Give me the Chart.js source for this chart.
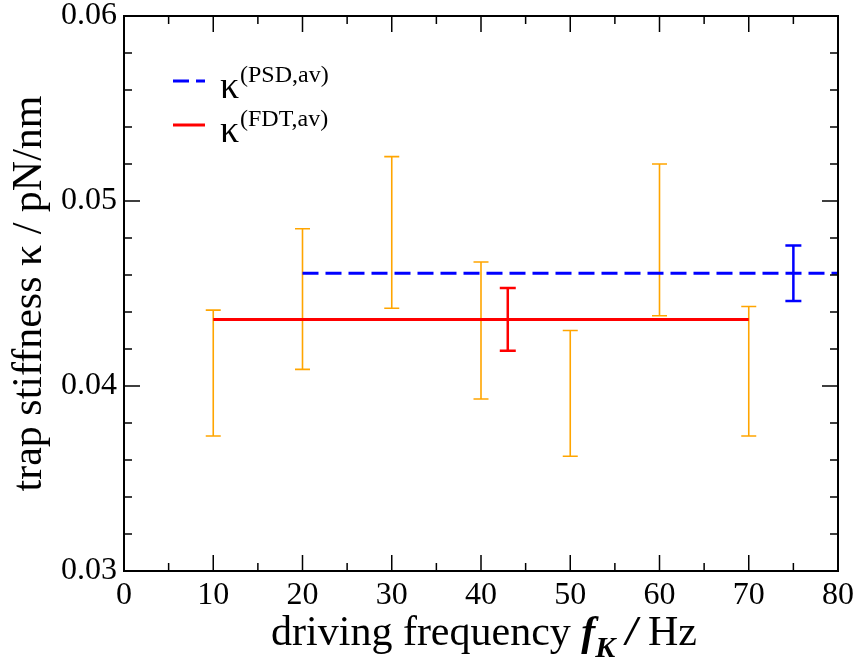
<!DOCTYPE html>
<html>
<head>
<meta charset="utf-8">
<script src="https://cdn.jsdelivr.net/npm/chart.js@4.4.0/dist/chart.umd.min.js"></script>
<style>
  html, body { margin: 0; padding: 0; background: #fff; }
</style>
</head>
<body>
<canvas id="stiffnessChart" width="856" height="660"></canvas>
<script>
// single measurements: driving frequency (Hz) and kappa error range (pN/nm)
const freqs = [10, 20, 30, 40, 50, 60, 70];
const kappaUpper = [0.0441, 0.0485, 0.0524, 0.0467, 0.0430, 0.0520, 0.0443];
const kappaLower = [0.0373, 0.0409, 0.0442, 0.0393, 0.0362, 0.0438, 0.0373];

// averaged stiffness from FDT
const fdtRange = [10, 70];
const fdtMean = 0.0436;
const fdtErrX = 43;
const fdtErr = [0.0419, 0.0453];

// averaged stiffness from PSD
const psdRange = [20, 80];
const psdMean = 0.0461;
const psdErrX = 75;
const psdErr = [0.0446, 0.0476];

// axis ticks
const xTicks = [0, 10, 20, 30, 40, 50, 60, 70, 80];
const yTicks = [0.03, 0.04, 0.05, 0.06];
const yTickLabels = ['0.03', '0.04', '0.05', '0.06'];

const FONT = '"Liberation Serif", "Times New Roman", serif';

function drawErrorBar(ctx, xs, ys, x, lo, hi, color, width, cap) {
  const px = xs.getPixelForValue(x);
  const top = ys.getPixelForValue(hi);
  const bot = ys.getPixelForValue(lo);
  ctx.save();
  ctx.strokeStyle = color;
  ctx.lineWidth = width;
  ctx.beginPath();
  ctx.moveTo(px, top); ctx.lineTo(px, bot);
  ctx.moveTo(px - cap, top); ctx.lineTo(px + cap, top);
  ctx.moveTo(px - cap, bot); ctx.lineTo(px + cap, bot);
  ctx.stroke();
  ctx.restore();
}

// no extra padding for overflowing tick labels, layout.padding decides
function noPad(s) {
  s.paddingTop = 0; s.paddingBottom = 0;
  s.paddingLeft = 0; s.paddingRight = 0;
}

// orange bars go under the averaged lines
const singleBars = {
  id: 'singleBars',
  beforeDatasetsDraw(chart) {
    const { ctx, scales: { x, y } } = chart;
    freqs.forEach((f, i) => {
      drawErrorBar(ctx, x, y, f, kappaLower[i], kappaUpper[i], '#FFA500', 1.6, 7.5);
    });
  }
};

const decorations = {
  id: 'decorations',
  afterDatasetsDraw(chart) {
    const { ctx, chartArea: a, scales: { x, y } } = chart;

    drawErrorBar(ctx, x, y, fdtErrX, fdtErr[0], fdtErr[1], '#FF0000', 2.5, 8);
    drawErrorBar(ctx, x, y, psdErrX, psdErr[0], psdErr[1], '#0000FF', 2.5, 8);

    ctx.save();
    // frame
    ctx.strokeStyle = '#000';
    ctx.lineWidth = 2;
    ctx.strokeRect(a.left, a.top, a.right - a.left, a.bottom - a.top);

    // inward ticks on all four sides
    ctx.lineWidth = 1.5;
    ctx.beginPath();
    for (let i = 0; i <= 16; i++) {
      const px = x.getPixelForValue(i * 5);
      const len = i % 2 === 0 ? 16 : 8;
      ctx.moveTo(px, a.bottom); ctx.lineTo(px, a.bottom - len);
      ctx.moveTo(px, a.top); ctx.lineTo(px, a.top + len);
    }
    for (let i = 0; i <= 15; i++) {
      const py = y.getPixelForValue(0.03 + i * 0.002);
      const len = i % 5 === 0 ? 16 : 8;
      ctx.moveTo(a.left, py); ctx.lineTo(a.left + len, py);
      ctx.moveTo(a.right, py); ctx.lineTo(a.right - len, py);
    }
    ctx.stroke();

    // legend
    ctx.lineWidth = 3;
    ctx.strokeStyle = '#0000FF';
    ctx.setLineDash([16, 7]);
    ctx.beginPath(); ctx.moveTo(173, 81); ctx.lineTo(205, 81); ctx.stroke();
    ctx.setLineDash([]);
    ctx.strokeStyle = '#FF0000';
    ctx.beginPath(); ctx.moveTo(173, 125); ctx.lineTo(205, 125); ctx.stroke();

    ctx.fillStyle = '#000';
    ctx.textAlign = 'left';
    ctx.textBaseline = 'alphabetic';
    ctx.font = '38px ' + FONT;
    ctx.fillText('κ', 220, 98);
    ctx.fillText('κ', 220, 142);
    ctx.font = '24px ' + FONT;
    ctx.fillText('(PSD,av)', 240, 82);
    ctx.fillText('(FDT,av)', 240, 126);

    // x axis title with italic subscripted symbol
    const parts = [
      { t: 'driving frequency ', f: '42px ' + FONT, dy: 0 },
      { t: 'f', f: 'italic bold 42px ' + FONT, dy: 0 },
      { t: 'K', f: 'italic bold 30px ' + FONT, dy: 12 },
      { t: ' / ', f: 'italic bold 42px ' + FONT, dy: 0 },
      { t: 'Hz', f: '42px ' + FONT, dy: 0 }
    ];
    let total = 0;
    parts.forEach(p => { ctx.font = p.f; p.w = ctx.measureText(p.t).width; total += p.w; });
    let cx = 484 - total / 2;
    parts.forEach(p => {
      ctx.font = p.f;
      ctx.fillText(p.t, cx, 645 + p.dy);
      cx += p.w;
    });

    // y axis title
    ctx.translate(41, (a.top + a.bottom) / 2);
    ctx.rotate(-Math.PI / 2);
    ctx.textAlign = 'center';
    ctx.font = '42px ' + FONT;
    ctx.fillText('trap stiffness κ / pN/nm', 0, 0);
    ctx.restore();
  }
};

new Chart(document.getElementById('stiffnessChart').getContext('2d'), {
  type: 'scatter',
  data: {
    datasets: [
      {
        label: 'κ(PSD,av)',
        data: psdRange.map(f => ({ x: f, y: psdMean })),
        showLine: true,
        borderColor: '#0000FF',
        borderWidth: 3,
        borderDash: [16, 7],
        pointRadius: 0
      },
      {
        label: 'κ(FDT,av)',
        data: fdtRange.map(f => ({ x: f, y: fdtMean })),
        showLine: true,
        borderColor: '#FF0000',
        borderWidth: 3,
        pointRadius: 0
      }
    ]
  },
  options: {
    responsive: false,
    animation: false,
    layout: { padding: { top: 16, right: 18, left: 0, bottom: 0 } },
    plugins: {
      legend: { display: false },
      tooltip: { enabled: false }
    },
    scales: {
      x: {
        type: 'linear',
        min: 0,
        max: 80,
        grid: { display: false, drawTicks: false },
        border: { display: false },
        afterBuildTicks: s => { s.ticks = xTicks.map(v => ({ value: v })); },
        afterFit: s => { s.height = 89; noPad(s); },
        ticks: {
          color: '#000',
          padding: 5,
          maxRotation: 0,
          font: { family: FONT, size: 32 }
        }
      },
      y: {
        type: 'linear',
        min: 0.03,
        max: 0.06,
        grid: { display: false, drawTicks: false },
        border: { display: false },
        afterBuildTicks: s => { s.ticks = yTicks.map(v => ({ value: v })); },
        afterFit: s => { s.width = 124; noPad(s); },
        ticks: {
          color: '#000',
          padding: 7,
          font: { family: FONT, size: 32 },
          callback: (v) => yTickLabels[yTicks.indexOf(v)] ?? ''
        }
      }
    }
  },
  plugins: [singleBars, decorations]
});
</script>
</body>
</html>
